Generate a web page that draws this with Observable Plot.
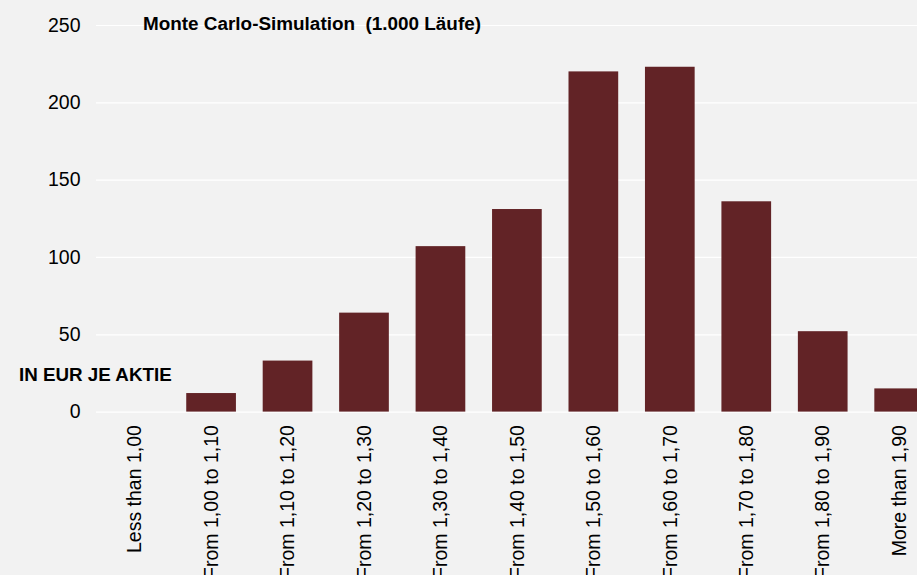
<!DOCTYPE html>
<html>
<head>
<meta charset="utf-8">
<script src="https://cdn.jsdelivr.net/npm/d3@7"></script>
<script src="https://cdn.jsdelivr.net/npm/@observablehq/plot@0.6"></script>
<style>
  html, body { margin: 0; padding: 0; background: #f2f2f2; overflow: hidden; }
  #wrap { position: relative; width: 917px; height: 575px; }
  .note { position: absolute; font-family: "Liberation Sans", Arial, sans-serif; font-weight: bold; color: #000; white-space: pre; line-height: 1; }
</style>
</head>
<body>
<div id="wrap"></div>
<script>
const categories = [
  "Less than 1,00", "From 1,00 to 1,10", "From 1,10 to 1,20", "From 1,20 to 1,30",
  "From 1,30 to 1,40", "From 1,40 to 1,50", "From 1,50 to 1,60", "From 1,60 to 1,70",
  "From 1,70 to 1,80", "From 1,80 to 1,90", "More than 1,90"
];
const counts = [0, 12, 33, 64, 107, 131, 220, 223, 136, 52, 15];
const yTicks = [0, 50, 100, 150, 200, 250];
const title = "Monte Carlo-Simulation  (1.000 Läufe)";
const unitLabel = "IN EUR JE AKTIE";

const data = categories.map((c, i) => ({category: c, count: counts[i]}));

const chart = Plot.plot({
  width: 917,
  height: 575,
  marginLeft: 96,
  marginRight: 0,
  marginTop: 25,
  marginBottom: 163.4,
  style: {background: "#f2f2f2", fontFamily: "'Liberation Sans', Arial, sans-serif", fontSize: "19.5px", color: "#000"},
  x: {type: "band", domain: categories, range: [96.4, 937.4], paddingInner: 0.35, paddingOuter: 0.175, round: false, label: null},
  y: {domain: [0, 250], range: [411.6, 25], label: null},
  marks: [
    Plot.ruleY(yTicks, {stroke: "#ffffff", strokeWidth: 1.2}),
    Plot.barY(data, {x: "category", y: "count", fill: "#622326"}),
    Plot.axisY(yTicks, {tickSize: 0, tickPadding: 16, fontSize: 19.5, fill: "#000", label: null}),
    Plot.axisX({tickSize: 0, tickPadding: 13, tickRotate: -90, fontSize: 19.5, fill: "#000", label: null})
  ]
});
const wrap = document.getElementById("wrap");
wrap.appendChild(chart);

const t = document.createElement("div");
t.className = "note";
t.style.cssText = "left:143px; top:15px; font-size:18.9px;";
t.textContent = title;
wrap.appendChild(t);

const u = document.createElement("div");
u.className = "note";
u.style.cssText = "left:19px; top:366px; font-size:18.8px;";
u.textContent = unitLabel;
wrap.appendChild(u);
</script>
</body>
</html>
